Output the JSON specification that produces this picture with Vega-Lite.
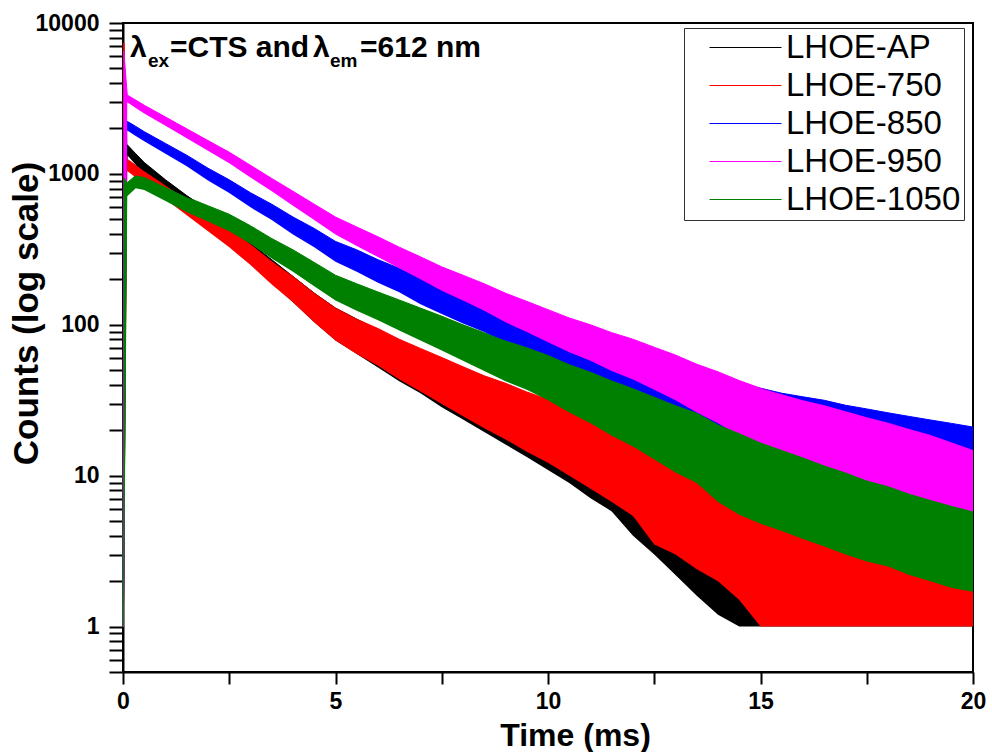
{
  "$schema": "https://vega.github.io/schema/vega-lite/v6.json",
  "width": 850,
  "height": 649,
  "autosize": {"type": "none"},
  "padding": {"left": 123, "top": 23, "right": 19, "bottom": 80},
  "background": "white",
  "config": {
    "font": "Liberation Sans",
    "view": {"stroke": "black", "strokeWidth": 2},
    "axis": {
      "domainColor": "black", "domainWidth": 2, "tickColor": "black", "tickWidth": 2,
      "grid": false, "labelFont": "Liberation Sans", "labelFontWeight": "bold", "labelFontSize": 23,
      "labelColor": "black", "titleFont": "Liberation Sans", "titleFontWeight": "bold",
      "titleFontSize": 32, "titleColor": "black", "labelOverlap": false, "labelFlush": false
    }
  },
  "data": {"values": [
    {"series":"LHOE-AP","t":0,"lo":1,"hi":1},{"series":"LHOE-AP","t":0.02,"lo":1,"hi":1600},{"series":"LHOE-AP","t":0.1,"lo":1330,"hi":1560},{"series":"LHOE-AP","t":0.3,"lo":1150,"hi":1360},
    {"series":"LHOE-AP","t":0.5,"lo":998,"hi":1191},{"series":"LHOE-AP","t":1,"lo":746,"hi":914},{"series":"LHOE-AP","t":1.5,"lo":571,"hi":718},{"series":"LHOE-AP","t":2,"lo":450,"hi":575},
    {"series":"LHOE-AP","t":2.5,"lo":344,"hi":453},{"series":"LHOE-AP","t":3,"lo":256,"hi":349},{"series":"LHOE-AP","t":3.5,"lo":190,"hi":270},{"series":"LHOE-AP","t":4,"lo":141,"hi":209},
    {"series":"LHOE-AP","t":4.5,"lo":104,"hi":162},{"series":"LHOE-AP","t":5,"lo":78.7,"hi":129},{"series":"LHOE-AP","t":5.5,"lo":64.1,"hi":109},{"series":"LHOE-AP","t":6,"lo":52.1,"hi":92.5},
    {"series":"LHOE-AP","t":6.5,"lo":42.2,"hi":78.7},{"series":"LHOE-AP","t":7,"lo":35.2,"hi":68.2},{"series":"LHOE-AP","t":7.5,"lo":28.4,"hi":58.2},{"series":"LHOE-AP","t":8,"lo":23.6,"hi":50.7},
    {"series":"LHOE-AP","t":8.5,"lo":19.5,"hi":44.2},{"series":"LHOE-AP","t":9,"lo":16.1,"hi":38.6},{"series":"LHOE-AP","t":9.5,"lo":13.3,"hi":33.8},{"series":"LHOE-AP","t":10,"lo":10.9,"hi":29.7},
    {"series":"LHOE-AP","t":10.5,"lo":8.95,"hi":26.1},{"series":"LHOE-AP","t":11,"lo":7.1,"hi":22.6},{"series":"LHOE-AP","t":11.5,"lo":5.8,"hi":20},{"series":"LHOE-AP","t":12,"lo":4,"hi":16.6},
    {"series":"LHOE-AP","t":12.5,"lo":3,"hi":14.1},{"series":"LHOE-AP","t":13,"lo":2.2,"hi":12},{"series":"LHOE-AP","t":13.5,"lo":1.6,"hi":10.5},{"series":"LHOE-AP","t":14,"lo":1.2,"hi":8.9},
    {"series":"LHOE-AP","t":14.5,"lo":1,"hi":7.8},{"series":"LHOE-AP","t":15,"lo":1,"hi":6.8},{"series":"LHOE-AP","t":15.5,"lo":1,"hi":6.3},{"series":"LHOE-AP","t":16,"lo":1,"hi":5.9},
    {"series":"LHOE-AP","t":16.5,"lo":1,"hi":5.4},{"series":"LHOE-AP","t":17,"lo":1,"hi":5},{"series":"LHOE-AP","t":17.5,"lo":1,"hi":4.7},{"series":"LHOE-AP","t":18,"lo":1,"hi":4.5},
    {"series":"LHOE-AP","t":18.5,"lo":1,"hi":4.3},{"series":"LHOE-AP","t":19,"lo":1,"hi":4.1},{"series":"LHOE-AP","t":19.5,"lo":1,"hi":4},{"series":"LHOE-AP","t":20,"lo":1,"hi":3.8},

    {"series":"LHOE-750","t":0,"lo":1,"hi":1},{"series":"LHOE-750","t":0.02,"lo":1,"hi":7400},{"series":"LHOE-750","t":0.1,"lo":1045,"hi":1250},{"series":"LHOE-750","t":0.3,"lo":948,"hi":1140},
    {"series":"LHOE-750","t":0.5,"lo":863,"hi":1042},{"series":"LHOE-750","t":1,"lo":678,"hi":837},{"series":"LHOE-750","t":1.5,"lo":532,"hi":671},{"series":"LHOE-750","t":2,"lo":417,"hi":540},
    {"series":"LHOE-750","t":2.5,"lo":326,"hi":435},{"series":"LHOE-750","t":3,"lo":249,"hi":342},{"series":"LHOE-750","t":3.5,"lo":185,"hi":264},{"series":"LHOE-750","t":4,"lo":141,"hi":209},
    {"series":"LHOE-750","t":4.5,"lo":104,"hi":162},{"series":"LHOE-750","t":5,"lo":78.7,"hi":129},{"series":"LHOE-750","t":5.5,"lo":64.1,"hi":109},{"series":"LHOE-750","t":6,"lo":53.5,"hi":94.4},
    {"series":"LHOE-750","t":6.5,"lo":43.4,"hi":80.2},{"series":"LHOE-750","t":7,"lo":36.1,"hi":69.7},{"series":"LHOE-750","t":7.5,"lo":29.9,"hi":60.7},{"series":"LHOE-750","t":8,"lo":24.8,"hi":52.7},
    {"series":"LHOE-750","t":8.5,"lo":20.6,"hi":45.9},{"series":"LHOE-750","t":9,"lo":17.4,"hi":41},{"series":"LHOE-750","t":9.5,"lo":14.4,"hi":35.9},{"series":"LHOE-750","t":10,"lo":12.2,"hi":32},
    {"series":"LHOE-750","t":10.5,"lo":10,"hi":28},{"series":"LHOE-750","t":11,"lo":8.2,"hi":24.7},{"series":"LHOE-750","t":11.5,"lo":6.7,"hi":21.7},{"series":"LHOE-750","t":12,"lo":5.4,"hi":18.6},
    {"series":"LHOE-750","t":12.5,"lo":3.5,"hi":15.8},{"series":"LHOE-750","t":13,"lo":3,"hi":13.8},{"series":"LHOE-750","t":13.5,"lo":2.4,"hi":12},{"series":"LHOE-750","t":14,"lo":2,"hi":10.5},
    {"series":"LHOE-750","t":14.5,"lo":1.5,"hi":9.1},{"series":"LHOE-750","t":15,"lo":1,"hi":7.9},{"series":"LHOE-750","t":15.5,"lo":1,"hi":7.2},{"series":"LHOE-750","t":16,"lo":1,"hi":6.8},
    {"series":"LHOE-750","t":16.5,"lo":1,"hi":6.3},{"series":"LHOE-750","t":17,"lo":1,"hi":5.9},{"series":"LHOE-750","t":17.5,"lo":1,"hi":5.5},{"series":"LHOE-750","t":18,"lo":1,"hi":5.2},
    {"series":"LHOE-750","t":18.5,"lo":1,"hi":5},{"series":"LHOE-750","t":19,"lo":1,"hi":4.8},{"series":"LHOE-750","t":19.5,"lo":1,"hi":4.6},{"series":"LHOE-750","t":20,"lo":1,"hi":4.5},

    {"series":"LHOE-850","t":0,"lo":1,"hi":1},{"series":"LHOE-850","t":0.02,"lo":1,"hi":2300},{"series":"LHOE-850","t":0.1,"lo":1940,"hi":2230},{"series":"LHOE-850","t":0.3,"lo":1780,"hi":2065},
    {"series":"LHOE-850","t":0.5,"lo":1644,"hi":1905},{"series":"LHOE-850","t":1,"lo":1358,"hi":1592},{"series":"LHOE-850","t":1.5,"lo":1125,"hi":1330},{"series":"LHOE-850","t":2,"lo":904,"hi":1091},
    {"series":"LHOE-850","t":2.5,"lo":746,"hi":914},{"series":"LHOE-850","t":3,"lo":600,"hi":750},{"series":"LHOE-850","t":3.5,"lo":494,"hi":630},{"series":"LHOE-850","t":4,"lo":396,"hi":518},
    {"series":"LHOE-850","t":4.5,"lo":326,"hi":435},{"series":"LHOE-850","t":5,"lo":262,"hi":357},{"series":"LHOE-850","t":5.5,"lo":225,"hi":314},{"series":"LHOE-850","t":6,"lo":190,"hi":270},
    {"series":"LHOE-850","t":6.5,"lo":164,"hi":237},{"series":"LHOE-850","t":7,"lo":137,"hi":204},{"series":"LHOE-850","t":7.5,"lo":118,"hi":180},{"series":"LHOE-850","t":8,"lo":102,"hi":158},
    {"series":"LHOE-850","t":8.5,"lo":89.5,"hi":143},{"series":"LHOE-850","t":9,"lo":76.7,"hi":126},{"series":"LHOE-850","t":9.5,"lo":67.5,"hi":114},{"series":"LHOE-850","t":10,"lo":57.8,"hi":100},
    {"series":"LHOE-850","t":10.5,"lo":50.7,"hi":90.6},{"series":"LHOE-850","t":11,"lo":43.4,"hi":80.2},{"series":"LHOE-850","t":11.5,"lo":38.1,"hi":72.4},{"series":"LHOE-850","t":12,"lo":32.4,"hi":64.3},
    {"series":"LHOE-850","t":12.5,"lo":28.4,"hi":58.2},{"series":"LHOE-850","t":13,"lo":25.5,"hi":53.8},{"series":"LHOE-850","t":13.5,"lo":22.3,"hi":48.8},{"series":"LHOE-850","t":14,"lo":20,"hi":45.2},
    {"series":"LHOE-850","t":14.5,"lo":17.4,"hi":41},{"series":"LHOE-850","t":15,"lo":15.6,"hi":38},{"series":"LHOE-850","t":15.5,"lo":14,"hi":35.2},{"series":"LHOE-850","t":16,"lo":12.8,"hi":33.3},
    {"series":"LHOE-850","t":16.5,"lo":11.8,"hi":31.6},{"series":"LHOE-850","t":17,"lo":10.5,"hi":29.3},{"series":"LHOE-850","t":17.5,"lo":9.7,"hi":27.7},{"series":"LHOE-850","t":18,"lo":8.95,"hi":26.1},
    {"series":"LHOE-850","t":18.5,"lo":8.2,"hi":24.7},{"series":"LHOE-850","t":19,"lo":7.5,"hi":23.4},{"series":"LHOE-850","t":19.5,"lo":6.9,"hi":22.2},{"series":"LHOE-850","t":20,"lo":6.3,"hi":21},

    {"series":"LHOE-950","t":0,"lo":1,"hi":1},{"series":"LHOE-950","t":0.02,"lo":1,"hi":6500},{"series":"LHOE-950","t":0.1,"lo":2980,"hi":3330},{"series":"LHOE-950","t":0.3,"lo":2735,"hi":3083},
    {"series":"LHOE-950","t":0.5,"lo":2518,"hi":2851},{"series":"LHOE-950","t":1,"lo":2084,"hi":2382},{"series":"LHOE-950","t":1.5,"lo":1726,"hi":1991},{"series":"LHOE-950","t":2,"lo":1426,"hi":1663},
    {"series":"LHOE-950","t":2.5,"lo":1178,"hi":1393},{"series":"LHOE-950","t":3,"lo":948,"hi":1140},{"series":"LHOE-950","t":3.5,"lo":766,"hi":933},{"series":"LHOE-950","t":4,"lo":614,"hi":767},
    {"series":"LHOE-950","t":4.5,"lo":494,"hi":630},{"series":"LHOE-950","t":5,"lo":396,"hi":518},{"series":"LHOE-950","t":5.5,"lo":333,"hi":445},{"series":"LHOE-950","t":6,"lo":281,"hi":383},
    {"series":"LHOE-950","t":6.5,"lo":237,"hi":327},{"series":"LHOE-950","t":7,"lo":200,"hi":282},{"series":"LHOE-950","t":7.5,"lo":168,"hi":242},{"series":"LHOE-950","t":8,"lo":145,"hi":213},
    {"series":"LHOE-950","t":8.5,"lo":124,"hi":187},{"series":"LHOE-950","t":9,"lo":104,"hi":162},{"series":"LHOE-950","t":9.5,"lo":89.5,"hi":143},{"series":"LHOE-950","t":10,"lo":76.7,"hi":126},
    {"series":"LHOE-950","t":10.5,"lo":65.8,"hi":111},{"series":"LHOE-950","t":11,"lo":57.8,"hi":100},{"series":"LHOE-950","t":11.5,"lo":49.4,"hi":88.7},{"series":"LHOE-950","t":12,"lo":43.4,"hi":80.2},
    {"series":"LHOE-950","t":12.5,"lo":37.1,"hi":71},{"series":"LHOE-950","t":13,"lo":31.6,"hi":63},{"series":"LHOE-950","t":13.5,"lo":26.2,"hi":54.8},{"series":"LHOE-950","t":14,"lo":22.3,"hi":48.8},
    {"series":"LHOE-950","t":14.5,"lo":18.4,"hi":42.7},{"series":"LHOE-950","t":15,"lo":15.6,"hi":38},{"series":"LHOE-950","t":15.5,"lo":13.6,"hi":34.6},{"series":"LHOE-950","t":16,"lo":11.8,"hi":31.6},
    {"series":"LHOE-950","t":16.5,"lo":10.5,"hi":29.3},{"series":"LHOE-950","t":17,"lo":9.1,"hi":26.7},{"series":"LHOE-950","t":17.5,"lo":7.9,"hi":24.4},{"series":"LHOE-950","t":18,"lo":6.8,"hi":22.4},
    {"series":"LHOE-950","t":18.5,"lo":5.9,"hi":20.4},{"series":"LHOE-950","t":19,"lo":5.4,"hi":18.6},{"series":"LHOE-950","t":19.5,"lo":4.8,"hi":16.6},{"series":"LHOE-950","t":20,"lo":4.3,"hi":14.8},

    {"series":"LHOE-1050","t":0,"lo":1,"hi":1},{"series":"LHOE-1050","t":0.02,"lo":1,"hi":950},{"series":"LHOE-1050","t":0.1,"lo":711,"hi":875},{"series":"LHOE-1050","t":0.3,"lo":802,"hi":977},
    {"series":"LHOE-1050","t":0.5,"lo":783,"hi":955},{"series":"LHOE-1050","t":1,"lo":662,"hi":818},{"series":"LHOE-1050","t":1.5,"lo":558,"hi":701},{"series":"LHOE-1050","t":2,"lo":483,"hi":615},
    {"series":"LHOE-1050","t":2.5,"lo":417,"hi":540},{"series":"LHOE-1050","t":3,"lo":344,"hi":453},{"series":"LHOE-1050","t":3.5,"lo":275,"hi":373},{"series":"LHOE-1050","t":4,"lo":225,"hi":314},
    {"series":"LHOE-1050","t":4.5,"lo":180,"hi":259},{"series":"LHOE-1050","t":5,"lo":145,"hi":213},{"series":"LHOE-1050","t":5.5,"lo":124,"hi":187},{"series":"LHOE-1050","t":6,"lo":107,"hi":165},
    {"series":"LHOE-1050","t":6.5,"lo":91.8,"hi":146},{"series":"LHOE-1050","t":7,"lo":78.7,"hi":129},{"series":"LHOE-1050","t":7.5,"lo":67.5,"hi":114},{"series":"LHOE-1050","t":8,"lo":57.8,"hi":100},
    {"series":"LHOE-1050","t":8.5,"lo":49.4,"hi":88.7},{"series":"LHOE-1050","t":9,"lo":42.2,"hi":78.7},{"series":"LHOE-1050","t":9.5,"lo":37.1,"hi":71},{"series":"LHOE-1050","t":10,"lo":31.6,"hi":63},
    {"series":"LHOE-1050","t":10.5,"lo":26.2,"hi":54.8},{"series":"LHOE-1050","t":11,"lo":22.3,"hi":48.8},{"series":"LHOE-1050","t":11.5,"lo":18.4,"hi":42.7},{"series":"LHOE-1050","t":12,"lo":15.6,"hi":38},
    {"series":"LHOE-1050","t":12.5,"lo":12.8,"hi":33.4},{"series":"LHOE-1050","t":13,"lo":10.5,"hi":29.3},{"series":"LHOE-1050","t":13.5,"lo":8.95,"hi":26.1},{"series":"LHOE-1050","t":14,"lo":6.7,"hi":21.8},
    {"series":"LHOE-1050","t":14.5,"lo":5.5,"hi":19.1},{"series":"LHOE-1050","t":15,"lo":4.8,"hi":16.6},{"series":"LHOE-1050","t":15.5,"lo":4.3,"hi":14.8},{"series":"LHOE-1050","t":16,"lo":3.8,"hi":13.2},
    {"series":"LHOE-1050","t":16.5,"lo":3.4,"hi":11.7},{"series":"LHOE-1050","t":17,"lo":3,"hi":10.5},{"series":"LHOE-1050","t":17.5,"lo":2.7,"hi":9.3},{"series":"LHOE-1050","t":18,"lo":2.5,"hi":8.5},
    {"series":"LHOE-1050","t":18.5,"lo":2.2,"hi":7.6},{"series":"LHOE-1050","t":19,"lo":2,"hi":6.9},{"series":"LHOE-1050","t":19.5,"lo":1.8,"hi":6.3},{"series":"LHOE-1050","t":20,"lo":1.7,"hi":5.8}
  ]},
  "layer": [
    {
      "mark": {"type": "line", "strokeWidth": 1},
      "encoding": {
        "x": {"field": "t", "type": "quantitative", "scale": {"domain": [0, 20], "nice": false, "zero": false},
          "axis": {"values": [0, 2.5, 5, 7.5, 10, 12.5, 15, 17.5, 20],
            "labelExpr": "datum.value % 5 === 0 ? datum.label : ''",
            "tickSize": 12,
            "encode": {"ticks": {"y2": {"condition": {"test": "datum.value % 5 === 0", "value": 12}, "value": 7}}},
            "labelPadding": 6, "title": "Time (ms)", "titleX": 452, "titleY": 73, "titleBaseline": "alphabetic", "titleAlign": "center"}},
        "y": {"field": "hi", "type": "quantitative", "scale": {"type": "log", "domain": [0.5, 10000], "nice": false},
          "axis": {"values": [0.5,0.6,0.7,0.8,0.9,1,2,3,4,5,6,7,8,9,10,20,30,40,50,60,70,80,90,100,200,300,400,500,600,700,800,900,1000,2000,3000,4000,5000,6000,7000,8000,9000,10000],
            "format": "d",
            "labelExpr": "indexof([1,10,100,1000,10000], datum.value) >= 0 ? datum.label : ''",
            "tickSize": 14,
            "encode": {"ticks": {"x2": {"condition": {"test": "indexof([1,10,100,1000,10000], datum.value) >= 0", "value": -14}, "value": -7}}},
            "labelPadding": 10, "title": "Counts (log scale)", "titleFontSize": 35, "titleX": -86, "titleY": 290, "titleAngle": -90, "titleBaseline": "alphabetic", "titleAlign": "center"}},
        "color": {"field": "series", "type": "nominal",
          "scale": {"domain": ["LHOE-AP", "LHOE-750", "LHOE-850", "LHOE-950", "LHOE-1050"], "range": ["#000000", "#ff0000", "#0000ff", "#ff00ff", "#008000"]},
          "legend": {"orient": "none", "legendX": 561, "legendY": 5, "title": null, "symbolType": "M-3,-0.05H3V0.05H-3Z", "symbolSize": 576,
            "symbolStrokeWidth": 0, "symbolStrokeColor": "transparent", "symbolOpacity": 1,
            "labelFontSize": 33, "labelFont": "Liberation Sans", "labelFontWeight": "normal", "labelColor": "black", "labelLimit": 400,
            "strokeColor": "#333333", "fillColor": "white", "padding": 3, "rowPadding": 4, "symbolOffset": 42, "labelOffset": 24}}
      }
    },
    {
      "transform": [{"filter": "datum.series === 'LHOE-AP'"}],
      "mark": {"type": "area", "opacity": 1},
      "encoding": {
        "x": {"field": "t", "type": "quantitative"},
        "y": {"field": "lo", "type": "quantitative", "scale": {"type": "log"}},
        "y2": {"field": "hi"},
        "color": {"field": "series", "type": "nominal", "legend": null}
      }
    },
    {
      "transform": [{"filter": "datum.series === 'LHOE-750'"}],
      "mark": {"type": "area", "opacity": 1},
      "encoding": {
        "x": {"field": "t", "type": "quantitative"},
        "y": {"field": "lo", "type": "quantitative", "scale": {"type": "log"}},
        "y2": {"field": "hi"},
        "color": {"field": "series", "type": "nominal", "legend": null}
      }
    },
    {
      "transform": [{"filter": "datum.series === 'LHOE-850'"}],
      "mark": {"type": "area", "opacity": 1},
      "encoding": {
        "x": {"field": "t", "type": "quantitative"},
        "y": {"field": "lo", "type": "quantitative", "scale": {"type": "log"}},
        "y2": {"field": "hi"},
        "color": {"field": "series", "type": "nominal", "legend": null}
      }
    },
    {
      "transform": [{"filter": "datum.series === 'LHOE-950'"}],
      "mark": {"type": "area", "opacity": 1},
      "encoding": {
        "x": {"field": "t", "type": "quantitative"},
        "y": {"field": "lo", "type": "quantitative", "scale": {"type": "log"}},
        "y2": {"field": "hi"},
        "color": {"field": "series", "type": "nominal", "legend": null}
      }
    },
    {
      "transform": [{"filter": "datum.series === 'LHOE-1050'"}],
      "mark": {"type": "area", "opacity": 1},
      "encoding": {
        "x": {"field": "t", "type": "quantitative"},
        "y": {"field": "lo", "type": "quantitative", "scale": {"type": "log"}},
        "y2": {"field": "hi"},
        "color": {"field": "series", "type": "nominal", "legend": null}
      }
    },
    {
      "data": {"values": [{"label": "λ"}]},
      "mark": {"type": "text", "align": "left", "baseline": "alphabetic", "dx": 7, "dy": 34, "fontSize": 30, "fontWeight": "bold", "font": "Liberation Sans", "color": "black"},
      "encoding": {"x": {"datum": 0, "type": "quantitative"}, "y": {"datum": 10000, "type": "quantitative", "scale": {"type": "log"}}, "text": {"field": "label"}}
    },
    {
      "data": {"values": [{"label": "ex"}]},
      "mark": {"type": "text", "align": "left", "baseline": "alphabetic", "dx": 25, "dy": 44, "fontSize": 19, "fontWeight": "bold", "font": "Liberation Sans", "color": "black"},
      "encoding": {"x": {"datum": 0, "type": "quantitative"}, "y": {"datum": 10000, "type": "quantitative", "scale": {"type": "log"}}, "text": {"field": "label"}}
    },
    {
      "data": {"values": [{"label": "=CTS and"}]},
      "mark": {"type": "text", "align": "left", "baseline": "alphabetic", "dx": 47, "dy": 34, "fontSize": 30, "fontWeight": "bold", "font": "Liberation Sans", "color": "black"},
      "encoding": {"x": {"datum": 0, "type": "quantitative"}, "y": {"datum": 10000, "type": "quantitative", "scale": {"type": "log"}}, "text": {"field": "label"}}
    },
    {
      "data": {"values": [{"label": "λ"}]},
      "mark": {"type": "text", "align": "left", "baseline": "alphabetic", "dx": 190, "dy": 34, "fontSize": 30, "fontWeight": "bold", "font": "Liberation Sans", "color": "black"},
      "encoding": {"x": {"datum": 0, "type": "quantitative"}, "y": {"datum": 10000, "type": "quantitative", "scale": {"type": "log"}}, "text": {"field": "label"}}
    },
    {
      "data": {"values": [{"label": "em"}]},
      "mark": {"type": "text", "align": "left", "baseline": "alphabetic", "dx": 207, "dy": 44, "fontSize": 19, "fontWeight": "bold", "font": "Liberation Sans", "color": "black"},
      "encoding": {"x": {"datum": 0, "type": "quantitative"}, "y": {"datum": 10000, "type": "quantitative", "scale": {"type": "log"}}, "text": {"field": "label"}}
    },
    {
      "data": {"values": [{"label": "=612 nm"}]},
      "mark": {"type": "text", "align": "left", "baseline": "alphabetic", "dx": 237, "dy": 34, "fontSize": 30, "fontWeight": "bold", "font": "Liberation Sans", "color": "black"},
      "encoding": {"x": {"datum": 0, "type": "quantitative"}, "y": {"datum": 10000, "type": "quantitative", "scale": {"type": "log"}}, "text": {"field": "label"}}
    }
  ]
}
